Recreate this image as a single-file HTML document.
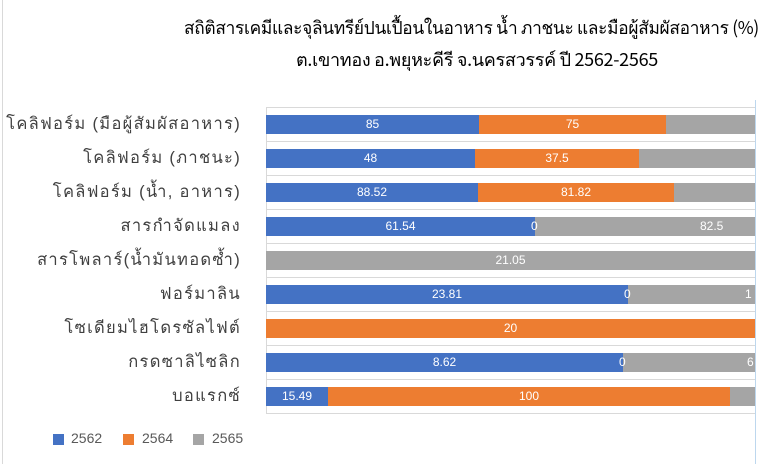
<!DOCTYPE html><html><head><meta charset="utf-8"><style>
body{margin:0;width:761px;height:464px;background:#fff;position:relative;overflow:hidden;font-family:"Liberation Sans","Noto Sans CJK SC",sans-serif}
.a{position:absolute}
.t{font-family:"Noto Sans CJK SC","Liberation Sans",sans-serif;font-size:18px;color:#000;white-space:nowrap;letter-spacing:-0.3px;transform-origin:0 0}
.lab{position:absolute;right:520px;font-size:16.5px;color:#404040;letter-spacing:1.3px;white-space:nowrap;font-family:"Liberation Sans","Noto Sans CJK SC",sans-serif;line-height:20px}
.b{position:absolute;height:19px;color:#fff;font-size:12px;line-height:19px;text-align:center;white-space:nowrap}
.B{background:#4472c4}.O{background:#ed7d31}.G{background:#a5a5a5}
.g{position:absolute;left:266px;width:489px;height:1px;background:#d9d9d9}
</style></head><body>
<div class="a" style="left:2px;top:0;width:1px;height:464px;background:#d9d9d9"></div>
<div class="a t" style="top:13px;left:184px;transform:scaleX(0.96)">สถิติสารเคมีและจุลินทรีย์ปนเปื้อนในอาหาร น้ำ ภาชนะ และมือผู้สัมผัสอาหาร (%)</div>
<div class="a t" style="top:45px;left:296px">ต.เขาทอง อ.พยุหะคีรี จ.นครสวรรค์ ปี 2562-2565</div>
<div class="a" style="left:266px;top:107px;width:1px;height:306px;background:#d9d9d9"></div>
<div class="a" style="left:755px;top:100px;width:1px;height:364px;background:#bdd7ee"></div>
<div class="g" style="top:107px"></div><div class="g" style="top:141px"></div><div class="g" style="top:175px"></div><div class="g" style="top:209px"></div><div class="g" style="top:243px"></div><div class="g" style="top:277px"></div><div class="g" style="top:311px"></div><div class="g" style="top:345px"></div><div class="g" style="top:379px"></div><div class="g" style="top:413px"></div>

<div class="lab" style="top:114px">โคลิฟอร์ม (มือผู้สัมผัสอาหาร)</div>
<div class="lab" style="top:148px">โคลิฟอร์ม (ภาชนะ)</div>
<div class="lab" style="top:182px">โคลิฟอร์ม (น้ำ, อาหาร)</div>
<div class="lab" style="top:216px">สารกำจัดแมลง</div>
<div class="lab" style="top:250px">สารโพลาร์(น้ำมันทอดซ้ำ)</div>
<div class="lab" style="top:284px">ฟอร์มาลิน</div>
<div class="lab" style="top:318px">โซเดียมไฮโดรซัลไฟต์</div>
<div class="lab" style="top:352px">กรดซาลิไซลิก</div>
<div class="lab" style="top:386px">บอแรกซ์</div>

<div class="b B" style="top:115px;left:266px;width:213px">85</div><div class="b O" style="top:115px;left:479px;width:187px">75</div><div class="b G" style="top:115px;left:666px;width:89px"></div>
<div class="b B" style="top:149px;left:266px;width:209px">48</div><div class="b O" style="top:149px;left:475px;width:164px">37.5</div><div class="b G" style="top:149px;left:639px;width:116px"></div>
<div class="b B" style="top:183px;left:266px;width:212px">88.52</div><div class="b O" style="top:183px;left:478px;width:196px">81.82</div><div class="b G" style="top:183px;left:674px;width:81px"></div>
<div class="b G" style="top:217px;left:535px;width:220px"><span style="position:absolute;left:165px">82.5</span></div>
<div class="b B" style="top:217px;left:266px;width:269px">61.54</div><span class="a" style="top:217px;left:531px;color:#fff;font-size:12px;line-height:19px">0</span>
<div class="b G" style="top:251px;left:266px;width:489px">21.05</div>
<div class="b G" style="top:285px;left:628px;width:127px"><span style="position:absolute;left:117px">1</span></div>
<div class="b B" style="top:285px;left:266px;width:362px">23.81</div><span class="a" style="top:285px;left:624px;color:#fff;font-size:12px;line-height:19px">0</span>
<div class="b O" style="top:319px;left:266px;width:489px">20</div>
<div class="b G" style="top:353px;left:623px;width:132px"><span style="position:absolute;left:124px">6</span></div>
<div class="b B" style="top:353px;left:266px;width:357px">8.62</div><span class="a" style="top:353px;left:619px;color:#fff;font-size:12px;line-height:19px">0</span>
<div class="b B" style="top:387px;left:266px;width:62px">15.49</div><div class="b O" style="top:387px;left:328px;width:402px">100</div><div class="b G" style="top:387px;left:730px;width:25px"></div>

<div class="a" style="left:53px;top:434px;width:11px;height:11px;background:#4472c4"></div><div class="a" style="left:71px;top:430px;font-size:14px;color:#595959">2562</div>
<div class="a" style="left:123px;top:434px;width:11px;height:11px;background:#ed7d31"></div><div class="a" style="left:142px;top:430px;font-size:14px;color:#595959">2564</div>
<div class="a" style="left:193px;top:434px;width:11px;height:11px;background:#a5a5a5"></div><div class="a" style="left:212px;top:430px;font-size:14px;color:#595959">2565</div>
</body></html>
